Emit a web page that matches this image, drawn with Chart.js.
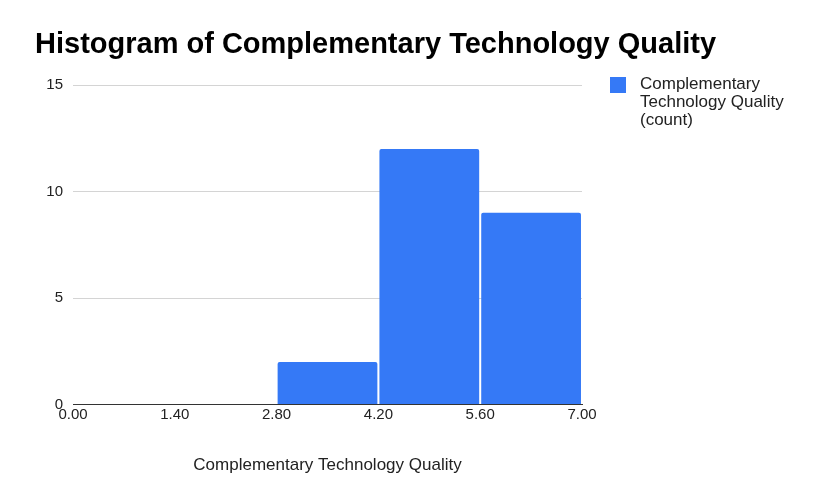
<!DOCTYPE html>
<html>
<head>
<meta charset="utf-8">
<title>Histogram of Complementary Technology Quality</title>
<script src="https://cdn.jsdelivr.net/npm/chart.js@4/dist/chart.umd.min.js"></script>
<style>
	html, body { margin: 0; padding: 0; background: #fff; }
	.hist-wrap { position: relative; width: 832px; height: 495px; }
	.hist-legend {
		position: absolute; left: 610px; top: 75px;
		font-family: "Liberation Sans", Arial, Helvetica, sans-serif;
		font-size: 17px; line-height: 18px; color: #222;
	}
	.hist-legend .item { display: flex; align-items: flex-start; }
	.hist-legend .box { width: 16px; height: 16px; margin: 2px 14px 0 0; flex: none; }
</style>
</head>
<body>
<div class="hist-wrap">
	<canvas id="histChart" width="832" height="495"></canvas>
	<div class="hist-legend" id="histLegend"></div>
</div>
<script>
// bins are 1.4 wide, centres on the value axis
var binCenters	= [0.7, 2.1, 3.5, 4.9, 6.3];
var binCounts	= [0, 0, 2, 12, 9];
var xTicks		= [0, 1.4, 2.8, 4.2, 5.6, 7];
var yTicks		= [0, 5, 10, 15];
var chartTitle	= 'Histogram of Complementary Technology Quality';
var axisTitle	= 'Complementary Technology Quality';
var seriesLabel	= 'Complementary Technology Quality (count)';
var legendLines	= ['Complementary', 'Technology Quality', '(count)'];

;(function (window, document, undefined) {
	'use strict';

	var FONT	= '"Liberation Sans", Arial, Helvetica, sans-serif',
		BLUE	= '#3579f6';

	let HIST = {};

	// the built-in title squeezes text to the plot width, so draw it by hand
	HIST.TitlePlugin = {
		id: 'histTitle',
		afterDraw: function (chart, args, opts) {
			let ctx = chart.ctx;
			ctx.save();
			ctx.font = 'bold 29px ' + FONT;
			ctx.fillStyle = '#000';
			ctx.textAlign = 'left';
			ctx.textBaseline = 'alphabetic';
			ctx.fillText(opts.text, opts.x, opts.y);
			ctx.restore();
		}
	};

	HIST.Legend = function (chart) {
		let el = document.getElementById('histLegend');
		chart.data.datasets.forEach(function (ds) {
			let item = document.createElement('div');
			item.className = 'item';
			item.innerHTML = '<span class="box" style="background:' + ds.backgroundColor + '"></span>'
				+ '<span>' + legendLines.join('<br>') + '</span>';
			el.appendChild(item);
		});
	};

	HIST.Chart = function () {
		let ctx = document.getElementById('histChart').getContext('2d');

		let points = binCenters.map(function (c, i) {
			return { x: c, y: binCounts[i] };
		});

		return new Chart(ctx, {
			type: 'bar',
			plugins: [HIST.TitlePlugin],
			data: {
				datasets: [{
					label: seriesLabel,
					data: points,
					backgroundColor: BLUE,
					borderRadius: { topLeft: 2, topRight: 2 },
					borderSkipped: 'bottom',
					barPercentage: 1,
					categoryPercentage: 0.98
				}]
			},
			options: {
				responsive: false,
				animation: false,
				layout: {
					padding: { left: 35, right: 250, top: 85, bottom: 19 }
				},
				plugins: {
					legend: { display: false },
					tooltip: { enabled: false },
					title: { display: false },
					histTitle: { text: chartTitle, x: 35, y: 53 }
				},
				scales: {
					x: {
						type: 'linear',
						min: 0,
						max: 7,
						offset: false,
						grid: { display: false, drawTicks: false },
						border: { display: true, color: '#333', width: 1 },
						afterBuildTicks: function (scale) {
							scale.ticks = xTicks.map(function (v) { return { value: v }; });
						},
						ticks: {
							padding: 1,
							color: '#222',
							maxRotation: 0,
							autoSkip: false,
							font: { family: FONT, size: 15 },
							callback: function (v) { return Number(v).toFixed(2); }
						},
						title: {
							display: true,
							text: axisTitle,
							color: '#222',
							font: { family: FONT, size: 17 },
							padding: { top: 31, bottom: 0 }
						}
					},
					y: {
						min: 0,
						max: 15,
						afterBuildTicks: function (scale) {
							scale.ticks = yTicks.map(function (v) { return { value: v }; });
						},
						afterFit: function (scale) {
							scale.width = 38;
						},
						grid: { color: '#d4d4d4', drawTicks: false },
						border: { display: false },
						ticks: {
							padding: 10,
							color: '#222',
							font: { family: FONT, size: 15 }
						}
					}
				}
			}
		});
	};

	let chart = HIST.Chart();
	HIST.Legend(chart);

})(window, document);
</script>
</body>
</html>
